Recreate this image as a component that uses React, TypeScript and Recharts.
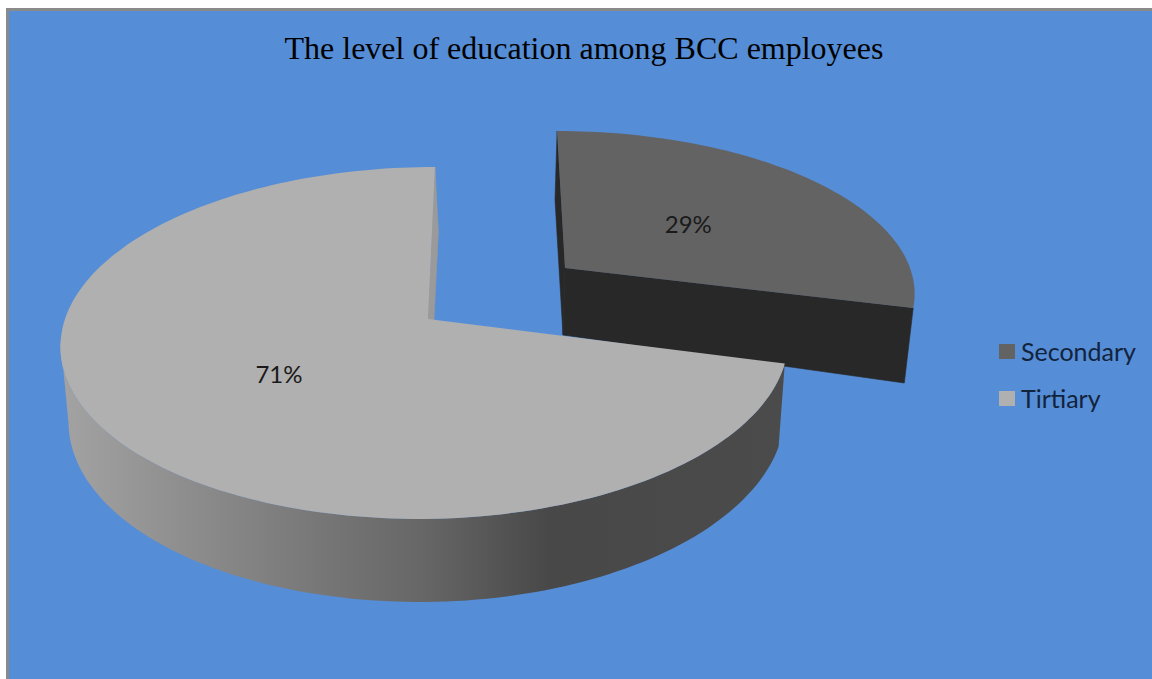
import React from 'react';
import { PieChart, Pie, Cell, Legend } from 'recharts';

const TITLE = 'The level of education among BCC employees';
const CATEGORIES = ['Secondary', 'Tirtiary'];
const VALUES = [29, 71];
const FACE_COLORS = ['#636363', '#b0b0b0'];
const data = CATEGORIES.map((name, i) => ({ name, value: VALUES[i] }));

type View = { ax: number; ay: number; a: number; k: number; bL: number; bR: number; shear: number };
type Look = {
  top: View; bottom: View; labelAt: number; radial: string; radialStart: boolean; radialEnd: boolean; rimMinSin: number;
};

// Perspective views of the exploded, tilted disc, one per slice.
const LOOKS: Record<string, Look> = {
  Secondary: {
    top: { ax: 565, ay: 268, a: 155.6, k: -0.136, bL: 345, bR: 345, shear: 0.058 },
    bottom: { ax: 563, ay: 335, a: 178, k: -0.316, bL: 322, bR: 322, shear: 0.059 },
    labelAt: 0.48, radial: '#282828', radialStart: true, radialEnd: true, rimMinSin: 2,
  },
  Tirtiary: {
    top: { ax: 428, ay: 319, a: 172.7, k: -0.136, bL: 363, bR: 358, shear: -0.046 },
    bottom: { ax: 430, ay: 400, a: 183.4, k: -0.092, bL: 359, bR: 354, shear: -0.05 },
    labelAt: 0.49, radial: '#9a9a9a', radialStart: false, radialEnd: true, rimMinSin: 0.12,
  },
};

const project = (v: View, deg: number) => {
  const c = Math.cos((deg * Math.PI) / 180);
  const s = -Math.sin((deg * Math.PI) / 180);
  const den = 1 + v.k * s;
  const y = v.ay + (v.a * s) / den;
  const x = v.ax + ((c < 0 ? v.bL : v.bR) * c) / den + v.shear * (y - v.ay);
  return { x, y };
};

const sweep = (from: number, to: number) => {
  const out: number[] = [];
  const n = Math.max(1, Math.ceil(Math.abs(to - from) / 1.5));
  for (let i = 0; i <= n; i++) out.push(from + ((to - from) * i) / n);
  return out;
};

const toPath = (pts: { x: number; y: number }[]) =>
  pts.map((p, i) => `${i ? 'L' : 'M'}${p.x.toFixed(1)} ${p.y.toFixed(1)}`).join(' ') + ' Z';

const Slice3D = (props: any) => {
  const { startAngle, endAngle, fill, name, payload } = props;
  const look = LOOKS[name ?? payload?.name];
  const apexTop = { x: look.top.ax, y: look.top.ay };
  const apexBottom = { x: look.bottom.ax, y: look.bottom.ay };
  const radial = (deg: number) =>
    toPath([apexTop, project(look.top, deg), project(look.bottom, deg), apexBottom]);
  const angles = sweep(startAngle, endAngle);
  const rimAngles = angles.filter((d) => -Math.sin((d * Math.PI) / 180) >= look.rimMinSin);
  const face = toPath([apexTop, ...angles.map((d) => project(look.top, d))]);
  const rim = rimAngles.length
    ? toPath([
        ...rimAngles.map((d) => project(look.top, d)),
        ...rimAngles.slice().reverse().map((d) => project(look.bottom, d)),
      ])
    : null;
  return (
    <g>
      <defs>
        <linearGradient id="rimShade" gradientUnits="userSpaceOnUse" x1="60" y1="0" x2="790" y2="0">
          <stop offset="0" stopColor="#a3a3a3" />
          <stop offset="0.33" stopColor="#7a7a7a" />
          <stop offset="0.5" stopColor="#666666" />
          <stop offset="0.67" stopColor="#484848" />
          <stop offset="1" stopColor="#4b4b4b" />
        </linearGradient>
      </defs>
      {look.radialStart && <path d={radial(startAngle)} fill={look.radial} stroke={look.radial} strokeWidth={0.6} />}
      {look.radialEnd && <path d={radial(endAngle)} fill={look.radial} stroke={look.radial} strokeWidth={0.6} />}
      {rim && <path d={rim} fill="url(#rimShade)" />}
      <path d={face} fill={fill} />
    </g>
  );
};

const renderLabel = (props: any) => {
  const look = LOOKS[props.name ?? props.payload?.name];
  const c = Math.cos((props.midAngle * Math.PI) / 180);
  const s = -Math.sin((props.midAngle * Math.PI) / 180);
  const v = look.top;
  const f = look.labelAt;
  const den = 1 + v.k * s * f;
  const y = v.ay + (v.a * s * f) / den;
  const x = v.ax + ((c < 0 ? v.bL : v.bR) * c * f) / den + v.shear * (y - v.ay);
  return (
    <text x={x} y={y} textAnchor="middle" dominantBaseline="central" fontFamily="Lato" fontSize={24} fill="#1a1a1a">
      {`${Math.round(props.percent * 100)}%`}
    </text>
  );
};

const renderLegend = (props: any) => (
  <div style={{ position: 'relative', width: 150, height: 90 }}>
    {(props.payload ?? []).map((entry: any, i: number) => (
      <div key={entry.value} style={{ position: 'absolute', left: 0, top: i * 47, height: 30, width: 150 }}>
        <span style={{ position: 'absolute', left: 0, top: 8, width: 16, height: 15, background: entry.color }} />
        <span style={{ position: 'absolute', left: 22, top: 0, fontFamily: 'Lato', fontSize: 25, lineHeight: '30px', color: '#12233c' }}>
          {entry.value}
        </span>
      </div>
    ))}
  </div>
);

export default function App() {
  return (
    <div style={{ position: 'absolute', left: 0, top: 0, width: 1152, height: 679, background: '#ffffff', overflow: 'hidden' }}>
      <div style={{ position: 'absolute', left: 6, top: 8, right: 0, bottom: 0, background: '#558dd6', borderLeft: '3px solid #8a8a8a', borderTop: '3px solid #8a8a8a' }} />
      <div style={{ position: 'absolute', left: 0, top: 0 }}>
        <PieChart width={1152} height={679} margin={{ top: 0, right: 0, bottom: 0, left: 0 }}>
          <text x={584} y={59} textAnchor="middle" fontFamily="Liberation Serif" fontSize={32} fill="#000000">
            {TITLE}
          </text>
          <Pie
            data={data}
            dataKey="value"
            nameKey="name"
            cx={428}
            cy={319}
            outerRadius={180}
            startAngle={90}
            endAngle={-270}
            stroke="none"
            isAnimationActive={false}
            shape={Slice3D}
            label={renderLabel}
            labelLine={false}
          >
            {data.map((d, i) => (
              <Cell key={d.name} fill={FACE_COLORS[i]} />
            ))}
          </Pie>
          <Legend content={renderLegend} wrapperStyle={{ position: 'absolute', left: 999, top: 336, width: 150, height: 90 }} />
        </PieChart>
      </div>
    </div>
  );
}
